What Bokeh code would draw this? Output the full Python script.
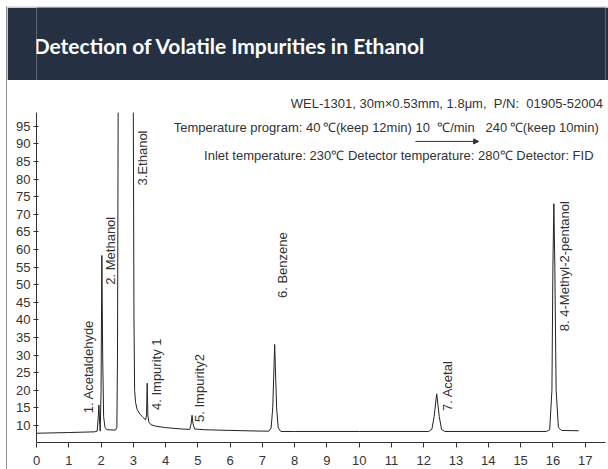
import numpy as np
from bokeh.plotting import figure
from bokeh.layouts import column
from bokeh.models import Range1d, FixedTicker, Label, Arrow, NormalHead
from bokeh.embed import file_html
from bokeh.resources import INLINE
from bokeh.core.properties import value

# ---------------- data ----------------
title_text = "Detection of Volatile Impurities in Ethanol"

# NaN marks the off-scale apex of the ethanol (solvent) peak
time_min = [0.00, 1.00, 1.80, 1.88, 1.91, 1.935, 1.955, 1.975, 2.000, 2.025, 2.05, 2.08,
            2.12, 2.18, 2.45, 2.49, 2.51, 2.53, 2.77, 3.00, 3.02, 3.04, 3.07, 3.12, 3.20,
            3.30, 3.38, 3.41, 3.43, 3.45, 3.48, 3.55, 3.70, 4.00, 4.50, 4.75, 4.79,
            4.82, 4.85, 4.90, 5.20, 6.00, 7.00, 7.20, 7.27, 7.32, 7.38, 7.44, 7.49,
            7.57, 8.00, 10.00, 12.15, 12.25, 12.32, 12.40, 12.48, 12.55, 12.65, 15.80,
            15.90, 15.97, 16.00, 16.03, 16.06, 16.10, 16.17, 16.27, 16.80]
signal = [7.8, 8.0, 8.2, 8.4, 12.0, 15.8, 11.0, 8.4, 20.0, 58.3, 30.0, 12.5,
          9.5, 8.8, 8.7, 9.5, 30.0, 98.9, float("nan"), 98.9, 40.0, 20.0, 16.5, 14.5, 13.3,
          12.3, 11.6, 13.0, 22.0, 13.0, 11.0, 10.2, 9.8, 9.4, 9.0, 8.9, 10.5,
          12.9, 10.5, 9.0, 8.8, 8.6, 8.4, 8.4, 9.3, 15.0, 33.0, 15.0, 9.3,
          8.3, 8.3, 8.3, 8.3, 8.9, 12.5, 19.0, 12.5, 8.9, 8.3, 8.3,
          8.8, 20.0, 55.0, 73.0, 55.0, 20.0, 9.5, 8.6, 8.5]

x_ticks = list(range(0, 18))
y_ticks = list(range(10, 100, 5))
y_axis_span = (5.17, 98.9)

peak_labels = ["1. Acetaldehyde", "2. Methanol", "3.Ethanol", "4. Impurity 1",
               "5. Impurity2", "6. Benzene", "7. Acetal", "8. 4-Methyl-2-pentanol"]
label_x = [1.61, 2.29, 3.28, 3.72, 5.05, 7.62, 12.72, 16.35]
label_y = [13.5, 50.0, 78.2, 14.4, 11.0, 46.2, 14.1, 36.8]

NB = "\u00a0"
TS = "\u2009"
info_lines = ["WEL-1301, 30m\u00d70.53mm, 1.8\u03bcm, " + NB + "P/N: " + NB + "01905-52004",
              "Temperature program: 40" + TS + "\u2103(keep 12min) 10 " + NB + "\u2103/min "
              + NB + NB + "240" + TS + "\u2103(keep 10min)",
              "Inlet temperature: 230\u2103 Detector temperature: 280\u2103 Detector: FID"]
info_x = [17.55, 17.42, 17.26]
info_y = [101.5, 94.7, 86.7]

# ---------------- style ----------------
HEADER = "#253142"
INK = "#333333"
FONT = "Liberation Sans"

header = figure(width=601, height=73, x_range=Range1d(0, 601), y_range=Range1d(0, 73),
                output_backend="svg", toolbar_location=None,
                x_axis_location=None, y_axis_location=None,
                min_border_left=0, min_border_right=0, min_border_top=0, min_border_bottom=0,
                background_fill_color=HEADER, border_fill_color=HEADER)
header.outline_line_color = None
header.grid.visible = False
header.add_layout(Label(x=-3, y=35.5, text=title_text, text_color="white",
                        text_font="Lato", text_font_size="21px",
                        text_font_style="bold", text_baseline="middle", text_align="left"))

p = figure(width=601, height=389, x_range=Range1d(0, 17.63), y_range=Range1d(5.17, 105.17),
           output_backend="svg", toolbar_location=None,
           min_border_left=29, min_border_right=3, min_border_top=10, min_border_bottom=27,
           background_fill_color="white", border_fill_color="white")
p.outline_line_color = None
p.grid.visible = False

p.line(time_min, signal, line_color="#222222", line_width=1)

p.text(x=label_x, y=label_y, text=peak_labels, angle=np.pi / 2,
       text_align="left", text_baseline="middle",
       text_font=value(FONT), text_font_size="13px", text_color=INK)

for t, x, y in zip(info_lines, info_x, info_y):
    p.add_layout(Label(x=x, y=y, text=t, text_align="right", text_baseline="middle",
                       text_font=FONT, text_font_size="13px", text_color=INK))

p.add_layout(Arrow(x_start=11.74, y_start=90.7, x_end=13.70, y_end=90.7,
                   end=NormalHead(size=5, fill_color=INK, line_color=INK),
                   line_color=INK, line_width=1))

for ax in (p.xaxis[0], p.yaxis[0]):
    ax.axis_line_color = INK
    ax.major_tick_line_color = INK
    ax.minor_tick_line_color = None
    ax.major_label_text_color = INK
    ax.major_label_text_font = FONT
    ax.major_label_text_font_size = "13px"

p.xaxis.ticker = FixedTicker(ticks=x_ticks)
p.xaxis.major_tick_out = 5
p.xaxis.major_tick_in = 0
p.xaxis.major_label_standoff = 8

p.yaxis.ticker = FixedTicker(ticks=y_ticks)
p.yaxis.bounds = y_axis_span
p.yaxis.major_tick_out = 3
p.yaxis.major_tick_in = 2
p.yaxis.major_label_standoff = 3

layout = column(header, p, spacing=0,
                styles={"margin-left": "6px", "margin-top": "6px",
                        "border-left": "1px solid #8c8c8c", "border-top": "1px solid #e2e2e2"})

open("out.html", "w").write(file_html(layout, INLINE))
